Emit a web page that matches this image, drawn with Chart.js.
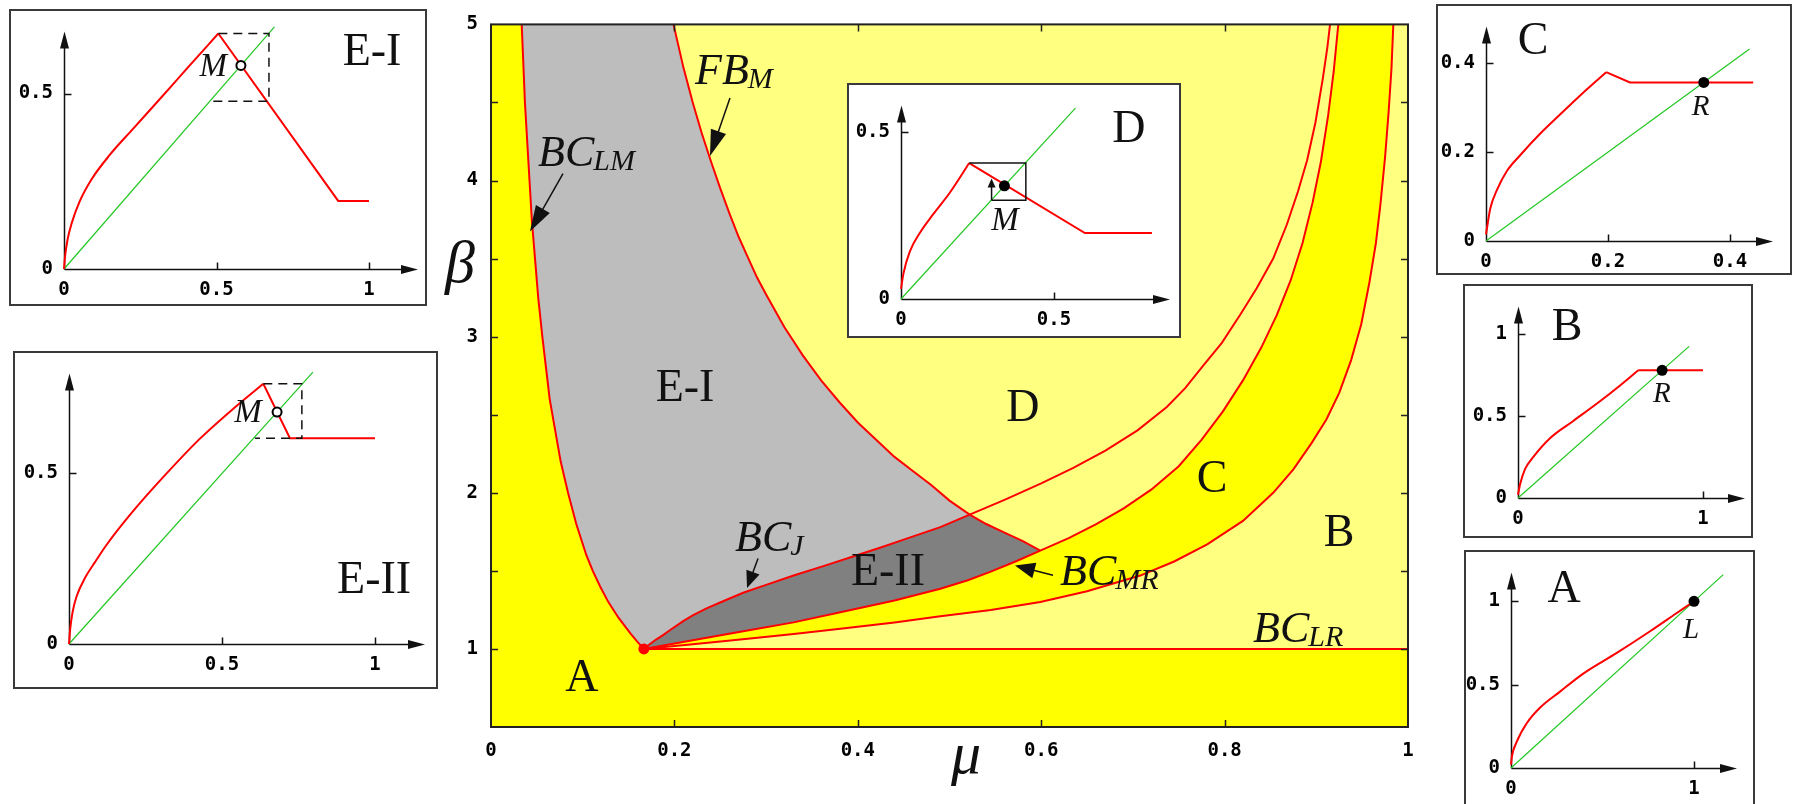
<!DOCTYPE html>
<html lang="en">
<head>
<meta charset="utf-8">
<title>Bifurcation structure in the (μ, β) plane</title>
<script src="https://cdn.jsdelivr.net/npm/chart.js@4.4.1/dist/chart.umd.min.js"></script>
<style>
  html, body { margin: 0; padding: 0; background: #ffffff; }
  #stage { position: relative; width: 1794px; height: 804px; overflow: hidden; }
  #stage canvas { position: absolute; }
</style>
</head>
<body>
<div id="stage"></div>
<script>
// ===== Parameter plane: boundary curves as (mu, beta) pairs =====
const junction = [0.1667, 1.0];
const bcLM = [[0.1667,1.0],[0.159,1.05],[0.152,1.1],[0.139,1.2],[0.128,1.3],[0.119,1.4],[0.111,1.5],[0.104,1.6],[0.093,1.8],[0.084,2.0],[0.076,2.2],[0.070,2.4],[0.064,2.6],[0.060,2.8],[0.056,3.0],[0.0515,3.25],[0.048,3.5],[0.0445,3.75],[0.042,4.0],[0.037,4.5],[0.0335,5.0]];
const fbM = [[0.199,5.0],[0.21,4.72],[0.22,4.5],[0.23,4.3],[0.24,4.12],[0.25,3.95],[0.26,3.79],[0.27,3.64],[0.28,3.51],[0.29,3.38],[0.30,3.27],[0.32,3.06],[0.34,2.88],[0.36,2.72],[0.38,2.58],[0.40,2.45],[0.42,2.34],[0.44,2.23],[0.46,2.14],[0.48,2.05],[0.50,1.95],[0.522,1.86],[0.54,1.80],[0.56,1.745],[0.58,1.69],[0.599,1.63]];
const bcJ = [[0.1667,1.0],[0.173,1.03],[0.18,1.06],[0.188,1.09],[0.195,1.12],[0.21,1.18],[0.22,1.215],[0.235,1.26],[0.255,1.31],[0.275,1.36],[0.30,1.41],[0.33,1.47],[0.365,1.535],[0.399,1.60],[0.425,1.65],[0.45,1.70],[0.49,1.78],[0.522,1.86],[0.56,1.955],[0.60,2.06],[0.635,2.16],[0.67,2.27],[0.705,2.40],[0.737,2.55],[0.757,2.67],[0.776,2.81],[0.797,2.96],[0.817,3.14],[0.835,3.31],[0.853,3.5],[0.868,3.72],[0.88,3.93],[0.89,4.13],[0.899,4.37],[0.907,4.65],[0.912,4.85],[0.915,5.0]];
const bcMR = [[0.1667,1.0],[0.22,1.055],[0.272,1.11],[0.33,1.17],[0.381,1.235],[0.44,1.31],[0.49,1.385],[0.52,1.44],[0.545,1.495],[0.572,1.56],[0.599,1.63],[0.63,1.71],[0.66,1.80],[0.69,1.90],[0.72,2.02],[0.75,2.17],[0.775,2.34],[0.798,2.52],[0.82,2.72],[0.84,2.93],[0.857,3.14],[0.872,3.36],[0.885,3.60],[0.896,3.86],[0.905,4.12],[0.913,4.42],[0.919,4.70],[0.924,5.0]];
const bcOuter = [[0.1667,1.0],[0.22,1.03],[0.272,1.06],[0.33,1.095],[0.381,1.13],[0.44,1.17],[0.49,1.21],[0.545,1.25],[0.599,1.30],[0.65,1.37],[0.708,1.47],[0.745,1.56],[0.781,1.67],[0.82,1.82],[0.853,2.0],[0.875,2.15],[0.895,2.32],[0.911,2.47],[0.925,2.64],[0.938,2.85],[0.949,3.08],[0.958,3.35],[0.965,3.6],[0.970,3.85],[0.975,4.15],[0.979,4.45],[0.982,4.72],[0.984,5.0]];
const bcLR = [[0.1667,1.0],[1.0,1.0]];
const muRange = [0, 1];
const betaRange = [0.5, 5];
const muTicks = [0, 0.2, 0.4, 0.6, 0.8, 1];
const betaTicks = [1, 2, 3, 4, 5];
const betaMarks = [1, 1.5, 2, 2.5, 3, 3.5, 4, 4.5];

// ===== One-dimensional maps for each region: smooth branch, linear branches, diagonal, fixed point =====
const riseEI = [[0,0],[0.004,0.04],[0.012,0.085],[0.025,0.13],[0.05,0.19],[0.09,0.255],[0.15,0.325],[0.227,0.40],[0.315,0.485],[0.402,0.57],[0.506,0.671]];
const restEI = [[0.506,0.671],[0.899,0.194],[1.0,0.194]];
const diagEI = [[0,0],[0.69,0.69]];
const fixEI = [0.58, 0.58];
const cobEI = [[0.506,0.671],[0.672,0.671],[0.672,0.478],[0.485,0.478]];
const ticksEIx = [0, 0.5, 1], ticksEIy = [0, 0.5];

const riseEII = [[0,0],[0.004,0.045],[0.012,0.095],[0.025,0.14],[0.05,0.19],[0.085,0.24],[0.123,0.291],[0.21,0.39],[0.319,0.50],[0.428,0.602],[0.537,0.69],[0.635,0.763]];
const restEII = [[0.635,0.763],[0.722,0.603],[1.0,0.603]];
const diagEII = [[0,0],[0.797,0.797]];
const fixEII = [0.68, 0.68];
const cobEII = [[0.635,0.763],[0.761,0.763],[0.761,0.603],[0.608,0.603]];
const ticksEIIx = [0, 0.5, 1], ticksEIIy = [0, 0.5];

const riseD = [[0,0.03],[0.008,0.076],[0.029,0.142],[0.062,0.198],[0.106,0.254],[0.16,0.318],[0.223,0.406]];
const restD = [[0.223,0.406],[0.601,0.197],[0.82,0.197]];
const diagD = [[0,0],[0.57,0.57]];
const fixD = [0.338, 0.338];
const cobD = [[0.296,0.295],[0.408,0.295],[0.408,0.406],[0.223,0.406]];
const stepD = [[0.296,0.295],[0.296,0.36]];
const ticksDx = [0, 0.5], ticksDy = [0, 0.5];

const riseC = [[0,0.015],[0.007,0.073],[0.018,0.115],[0.034,0.157],[0.056,0.193],[0.089,0.242],[0.127,0.292],[0.165,0.341],[0.197,0.38]];
const restC = [[0.197,0.38],[0.236,0.357],[0.438,0.357]];
const diagC = [[0,0],[0.432,0.432]];
const fixC = [0.357, 0.357];
const ticksCx = [0, 0.2, 0.4], ticksCy = [0, 0.2, 0.4];

const riseB = [[0,0.02],[0.011,0.083],[0.038,0.176],[0.083,0.251],[0.173,0.365],[0.299,0.47],[0.443,0.59],[0.55,0.685],[0.65,0.779]];
const restB = [[0.65,0.779],[1.0,0.779]];
const diagB = [[0,0],[0.925,0.925]];
const fixB = [0.779, 0.779];
const ticksBx = [0, 1], ticksBy = [0, 0.5, 1];

const riseA = [[0,0.02],[0.004,0.063],[0.031,0.156],[0.086,0.268],[0.158,0.361],[0.268,0.458],[0.395,0.566],[0.578,0.69],[0.76,0.82],[0.9,0.925],[1,1]];
const restA = [];
const diagA = [[0,0],[1.16,1.16]];
const fixA = [1, 1];
const ticksAx = [0, 1], ticksAy = [0, 0.5, 1];

// ===== Styling =====
const RED = '#ff0000', GREEN = '#22c822', BRIGHT = '#ffff00', PALE = '#ffff80';
const GRAY1 = '#bdbdbd', GRAY2 = '#808080', INK = '#111111';
const SERIF = '"Liberation Serif", "DejaVu Serif", serif';
const MONO = '"DejaVu Sans Mono", monospace';
const TICK_FONT = {family: MONO, size: 19, weight: 'bold'};

Chart.defaults.font.family = MONO;
Chart.defaults.color = '#000';

const xy = arr => arr.map(([x, y]) => ({x, y}));

function makeCanvas(left, top, w, h) {
  const c = document.createElement('canvas');
  c.width = w; c.height = h;
  c.style.left = left + 'px'; c.style.top = top + 'px';
  c.style.width = w + 'px'; c.style.height = h + 'px';
  document.getElementById('stage').appendChild(c);
  return c;
}

function arrowHead(ctx, x1, y1, x2, y2, len, halfW) {
  const a = Math.atan2(y2 - y1, x2 - x1);
  const bx = x2 - len * Math.cos(a), by = y2 - len * Math.sin(a);
  ctx.beginPath();
  ctx.moveTo(x2, y2);
  ctx.lineTo(bx + halfW * Math.sin(a), by - halfW * Math.cos(a));
  ctx.lineTo(bx - halfW * Math.sin(a), by + halfW * Math.cos(a));
  ctx.closePath();
  ctx.fill();
}
function arrow(ctx, x1, y1, x2, y2, len, halfW, lw) {
  const a = Math.atan2(y2 - y1, x2 - x1);
  ctx.beginPath();
  ctx.moveTo(x1, y1);
  ctx.lineTo(x2 - len * 0.7 * Math.cos(a), y2 - len * 0.7 * Math.sin(a));
  ctx.lineWidth = lw;
  ctx.stroke();
  arrowHead(ctx, x1, y1, x2, y2, len, halfW);
}

// ===== Main parameter plane =====
const MAIN = {left: 491, top: 11, right: 1408, bottom: 727, w: 1794, h: 804};

const paleRegion = [...bcLM, [muRange[1], betaRange[1]], [muRange[1], 1]];
const cBand = [...bcMR, ...bcOuter.slice().reverse()];
const eOne = [...bcLM, ...fbM.filter(p => p[0] <= 0.522), ...bcJ.filter(p => p[0] < 0.522).reverse()];
const eTwo = [...bcJ.filter(p => p[0] <= 0.522), ...fbM.filter(p => p[0] > 0.522), ...bcMR.filter(p => p[0] < 0.599).reverse()];

const region = (pts, color, order) => ({
  data: xy(pts), showLine: true, fill: 'shape', backgroundColor: color,
  borderColor: 'rgba(0,0,0,0)', borderWidth: 0, pointRadius: 0, clip: false, order
});
const curve = pts => ({
  data: xy(pts), showLine: true, fill: false, borderColor: RED, borderWidth: 2,
  pointRadius: 0, order: 2
});

const mainText = {
  regions: [
    {t: 'E-I', mu: 0.2116, beta: 2.585},
    {t: 'E-II', mu: 0.4329, beta: 1.409},
    {t: 'A', mu: 0.0992, beta: 0.730},
    {t: 'D', mu: 0.5801, beta: 2.459},
    {t: 'C', mu: 0.7863, beta: 2.006},
    {t: 'B', mu: 0.9248, beta: 1.660}
  ],
  curves: [
    {t: 'BC', s: 'LM', mu: 0.0513, beta: 4.094},
    {t: 'FB', s: 'M', mu: 0.2225, beta: 4.616},
    {t: 'BC', s: 'J', mu: 0.2661, beta: 1.629},
    {t: 'BC', s: 'MR', mu: 0.6205, beta: 1.409},
    {t: 'BC', s: 'LR', mu: 0.8310, beta: 1.044}
  ],
  pointers: [
    {from: [0.0785, 4.044], to: [0.0425, 3.673], len: 26, hw: 8},
    {from: [0.2606, 4.528], to: [0.2388, 4.157], len: 26, hw: 8},
    {from: [0.2912, 1.579], to: [0.2792, 1.390], len: 17, hw: 7},
    {from: [0.6129, 1.472], to: [0.5714, 1.535], len: 20, hw: 8}
  ]
};

const mainDecor = {
  id: 'mainDecor',
  beforeDatasetsDraw(chart) {
    const {ctx, chartArea: a} = chart;
    ctx.save();
    ctx.fillStyle = BRIGHT;
    ctx.fillRect(a.left, a.top, a.right - a.left, a.bottom - a.top);
    ctx.restore();
  },
  afterDatasetsDraw(chart) {
    const {ctx, chartArea: a, scales: {x, y}} = chart;
    const X = v => x.getPixelForValue(v), Y = v => y.getPixelForValue(v);
    ctx.save();
    // frame
    ctx.strokeStyle = '#222'; ctx.lineWidth = 2;
    ctx.strokeRect(a.left, a.top, a.right - a.left, a.bottom - a.top);
    // inward tick marks on all four sides
    ctx.lineWidth = 1.5;
    ctx.beginPath();
    betaMarks.forEach(v => {
      const py = Math.round(Y(v)) + 0.5;
      ctx.moveTo(a.left, py); ctx.lineTo(a.left + 7, py);
      ctx.moveTo(a.right, py); ctx.lineTo(a.right - 7, py);
    });
    muTicks.forEach(v => {
      if (v <= muRange[0] || v >= muRange[1]) return;
      const px = Math.round(X(v)) + 0.5;
      ctx.moveTo(px, a.bottom); ctx.lineTo(px, a.bottom - 7);
      ctx.moveTo(px, a.top); ctx.lineTo(px, a.top + 7);
    });
    ctx.stroke();

    // region names
    ctx.fillStyle = INK;
    ctx.textAlign = 'center'; ctx.textBaseline = 'alphabetic';
    ctx.font = '46px ' + SERIF;
    mainText.regions.forEach(r => ctx.fillText(r.t, X(r.mu), Y(r.beta)));

    // curve names with subscripts
    ctx.textAlign = 'left';
    mainText.curves.forEach(c => {
      ctx.font = 'italic 44px ' + SERIF;
      const px = X(c.mu), py = Y(c.beta);
      ctx.fillText(c.t, px, py);
      const w = ctx.measureText(c.t).width;
      ctx.font = 'italic 30px ' + SERIF;
      ctx.fillText(c.s, px + w - 1, py + 4);
    });

    // pointers
    ctx.strokeStyle = INK;
    mainText.pointers.forEach(p => arrow(ctx, X(p.from[0]), Y(p.from[1]), X(p.to[0]), Y(p.to[1]), p.len, p.hw, 1.5));

    // axis titles
    ctx.font = 'italic 60px ' + SERIF;
    ctx.textAlign = 'center';
    ctx.fillText('β', a.left - 31, a.top + 258);
    ctx.fillText('μ', a.left + 475, a.bottom + 46);
    ctx.restore();
  }
};

const mainCanvas = makeCanvas(0, 0, MAIN.w, MAIN.h);
new Chart(mainCanvas, {
  type: 'scatter',
  data: {datasets: [
    region(paleRegion, PALE, 10),
    region(cBand, BRIGHT, 9),
    region(eOne, GRAY1, 8),
    region(eTwo, GRAY2, 7),
    curve(bcLM), curve(fbM), curve(bcJ), curve(bcMR), curve(bcOuter), curve(bcLR),
    {data: xy([junction]), showLine: false, pointRadius: 5.5, pointBackgroundColor: RED,
     pointBorderWidth: 0, clip: false, order: 1}
  ]},
  options: {
    responsive: false, animation: false, events: [],
    layout: {autoPadding: false, padding: {left: 0, top: MAIN.top, right: MAIN.w - MAIN.right, bottom: 0}},
    plugins: {legend: {display: false}, tooltip: {enabled: false}},
    scales: {
      x: {
        type: 'linear', min: muRange[0], max: muRange[1],
        afterFit: s => { s.height = MAIN.h - MAIN.bottom; },
        afterBuildTicks: s => { s.ticks = muTicks.map(v => ({value: v})); },
        grid: {display: false, drawTicks: false}, border: {display: false},
        ticks: {padding: 13, autoSkip: false, maxRotation: 0, font: TICK_FONT, callback: v => String(v)}
      },
      y: {
        type: 'linear', min: betaRange[0], max: betaRange[1],
        afterFit: s => { s.width = MAIN.left; },
        afterBuildTicks: s => { s.ticks = betaTicks.map(v => ({value: v})); },
        grid: {display: false, drawTicks: false}, border: {display: false},
        ticks: {padding: 13, autoSkip: false, font: TICK_FONT, callback: v => String(v)}
      }
    }
  },
  plugins: [mainDecor]
});

// ===== Small map plots =====
const insets = [
  {box: [9, 9, 427, 306], origin: [64, 269], unit: [305, 356], arrowEnd: 418, arrowTop: 28,
   rise: riseEI, rest: restEI, diag: diagEI, fix: fixEI, open: true, cob: cobEI, dashed: true, xTicks: ticksEIx, yTicks: ticksEIy,
   title: {t: 'E-I', x: 1.01, y: 0.615}, pt: {t: 'M', x: 0.489, y: 0.576, size: 33}},
  {box: [13, 351, 438, 689], origin: [69, 644], unit: [306, 358], arrowEnd: 425, arrowTop: 360,
   rise: riseEII, rest: restEII, diag: diagEII, fix: fixEII, open: true, cob: cobEII, dashed: true, xTicks: ticksEIIx, yTicks: ticksEIIy,
   title: {t: 'E-II', x: 0.997, y: 0.184}, pt: {t: 'M', x: 0.585, y: 0.676, size: 33}},
  {box: [847, 83, 1181, 338], origin: [901, 299], unit: [306, 358], arrowEnd: 1170, arrowTop: 92,
   rise: riseD, rest: restD, diag: diagD, fix: fixD, open: false, cob: cobD, dashed: false, step: stepD, xTicks: ticksDx, yTicks: ticksDy,
   title: {t: 'D', x: 0.745, y: 0.506}, pt: {t: 'M', x: 0.34, y: 0.232, size: 33}},
  {box: [1436, 4, 1792, 275], origin: [1486, 241], unit: [610, 472], arrowEnd: 1773, arrowTop: 13,
   rise: riseC, rest: restC, diag: diagC, fix: fixC, open: false, xTicks: ticksCx, yTicks: ticksCy,
   title: {t: 'C', x: 0.077, y: 0.447}, pt: {t: 'R', x: 0.352, y: 0.301, size: 29}},
  {box: [1463, 284, 1753, 538], origin: [1518, 498], unit: [185, 178], arrowEnd: 1745, arrowTop: 290,
   rise: riseB, rest: restB, diag: diagB, fix: fixB, open: false, xTicks: ticksBx, yTicks: ticksBy,
   title: {t: 'B', x: 0.265, y: 1.04}, pt: {t: 'R', x: 0.778, y: 0.629, size: 29}},
  {box: [1464, 550, 1755, 806], origin: [1511, 768], unit: [183, 179], arrowEnd: 1737, arrowTop: 558,
   rise: riseA, rest: restA, diag: diagA, fix: fixA, open: false, xTicks: ticksAx, yTicks: ticksAy,
   title: {t: 'A', x: 0.29, y: 1.067}, pt: {t: 'L', x: 0.984, y: 0.827, size: 29}}
];

function insetDecor(def) {
  return {
    id: 'insetDecor',
    beforeDraw(chart) {
      const {ctx, width, height} = chart;
      ctx.save(); ctx.fillStyle = '#ffffff'; ctx.fillRect(0, 0, width, height); ctx.restore();
    },
    beforeDatasetsDraw(chart) {
      const {ctx, chartArea: a, scales: {x, y}} = chart;
      const X = v => x.getPixelForValue(v), Y = v => y.getPixelForValue(v);
      const ox = Math.round(X(0)) + 0.5, oy = Math.round(Y(0)) + 0.5;
      ctx.save();
      ctx.strokeStyle = INK; ctx.fillStyle = INK; ctx.lineWidth = 1.5;
      ctx.beginPath();
      ctx.moveTo(ox, oy); ctx.lineTo(a.right - 8, oy);
      ctx.moveTo(ox, oy); ctx.lineTo(ox, a.top + 8);
      def.xTicks.forEach(v => { if (v > 0) { const p = Math.round(X(v)) + 0.5; ctx.moveTo(p, oy); ctx.lineTo(p, oy - 7); } });
      def.yTicks.forEach(v => { if (v > 0) { const p = Math.round(Y(v)) + 0.5; ctx.moveTo(ox, p); ctx.lineTo(ox + 7, p); } });
      ctx.stroke();
      arrowHead(ctx, ox, oy, a.right, oy, 17, 4.5);
      arrowHead(ctx, ox, oy, ox, a.top, 17, 4.5);
      ctx.restore();
    },
    afterDatasetsDraw(chart) {
      const {ctx, width, height, scales: {x, y}} = chart;
      const X = v => x.getPixelForValue(v), Y = v => y.getPixelForValue(v);
      ctx.save();
      ctx.strokeStyle = INK; ctx.fillStyle = INK;
      if (def.cob) {
        ctx.lineWidth = 1.5;
        ctx.setLineDash(def.dashed ? [9, 6] : []);
        ctx.beginPath();
        def.cob.forEach(([u, v], i) => i ? ctx.lineTo(X(u), Y(v)) : ctx.moveTo(X(u), Y(v)));
        ctx.stroke();
        ctx.setLineDash([]);
      }
      if (def.step) {
        const [[u0, v0], [u1, v1]] = def.step;
        arrow(ctx, X(u0), Y(v0), X(u1), Y(v1), 9, 4, 1.5);
      }
      ctx.textAlign = 'center'; ctx.textBaseline = 'middle';
      ctx.font = '46px ' + SERIF;
      ctx.fillText(def.title.t, X(def.title.x), Y(def.title.y));
      ctx.font = 'italic ' + def.pt.size + 'px ' + SERIF;
      ctx.fillText(def.pt.t, X(def.pt.x), Y(def.pt.y));
      ctx.strokeStyle = '#3a3a3a'; ctx.lineWidth = 2;
      ctx.strokeRect(1, 1, width - 2, height - 2);
      ctx.restore();
    }
  };
}

insets.forEach(def => {
  const [l, t, r, b] = def.box;
  const [ox, oy] = def.origin;
  const [sx, sy] = def.unit;
  const c = makeCanvas(l, t, r - l, b - t);
  new Chart(c, {
    type: 'scatter',
    data: {datasets: [
      {data: xy(def.rise), showLine: true, cubicInterpolationMode: 'monotone', borderColor: RED, borderWidth: 2, pointRadius: 0, clip: false, order: 2},
      {data: xy(def.rest), showLine: true, borderColor: RED, borderWidth: 2, pointRadius: 0, clip: false, order: 2},
      {data: xy(def.diag), showLine: true, borderColor: GREEN, borderWidth: 1.2, pointRadius: 0, clip: false, order: 3},
      {data: xy([def.fix]), showLine: false, pointRadius: def.open ? 4.5 : 5.5,
       pointBackgroundColor: def.open ? '#ffffff' : '#000000', pointBorderColor: '#000000',
       pointBorderWidth: def.open ? 2 : 0, clip: false, order: 1}
    ]},
    options: {
      responsive: false, animation: false, events: [],
      layout: {autoPadding: false, padding: {left: 0, top: def.arrowTop - t, right: r - def.arrowEnd, bottom: 0}},
      plugins: {legend: {display: false}, tooltip: {enabled: false}},
      scales: {
        x: {
          type: 'linear', min: 0, max: (def.arrowEnd - ox) / sx,
          afterFit: s => { s.height = b - oy; },
          afterBuildTicks: s => { s.ticks = def.xTicks.map(v => ({value: v})); },
          grid: {display: false, drawTicks: false}, border: {display: false},
          ticks: {padding: 10, autoSkip: false, maxRotation: 0, font: TICK_FONT, callback: v => String(v)}
        },
        y: {
          type: 'linear', min: 0, max: (oy - def.arrowTop) / sy,
          afterFit: s => { s.width = ox - l; },
          afterBuildTicks: s => { s.ticks = def.yTicks.map(v => ({value: v})); },
          grid: {display: false, drawTicks: false}, border: {display: false},
          ticks: {padding: 11, autoSkip: false, font: TICK_FONT, callback: v => String(v)}
        }
      }
    },
    plugins: [insetDecor(def)]
  });
});
</script>
</body>
</html>
